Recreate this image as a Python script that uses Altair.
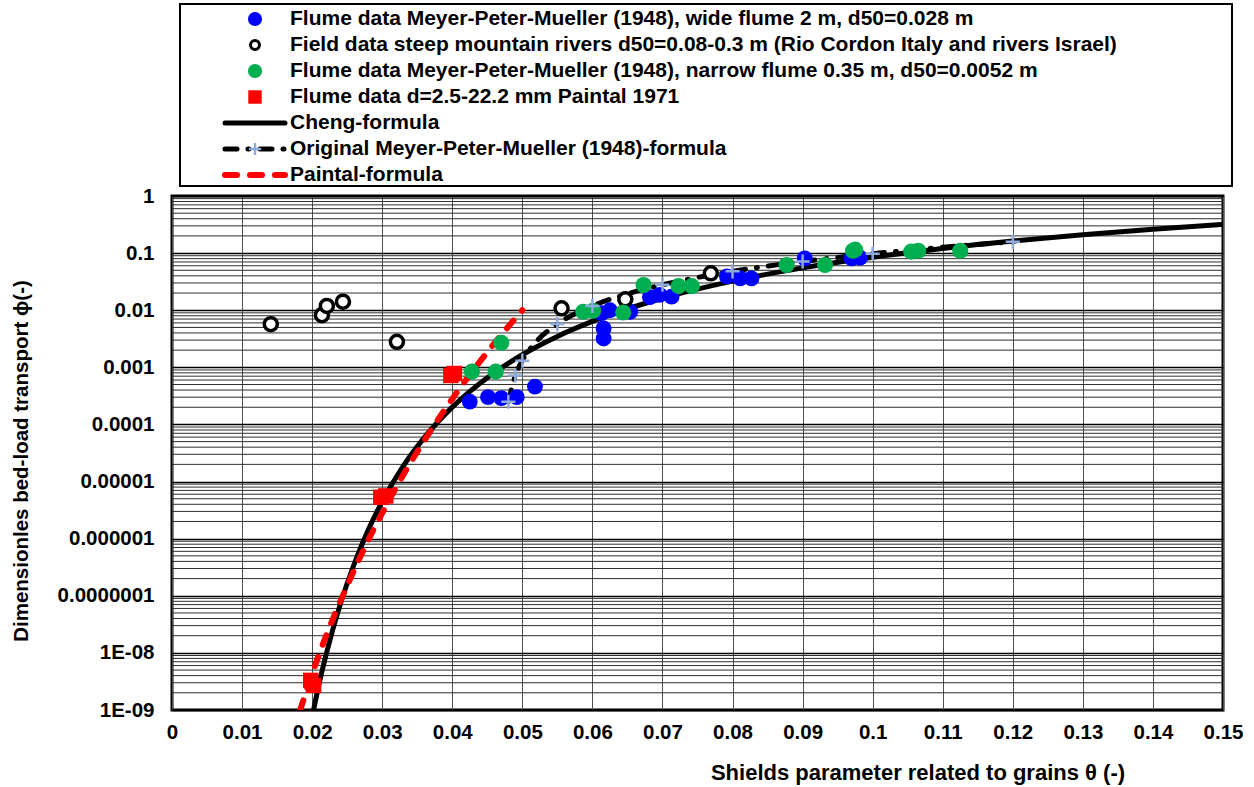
import altair as alt
import pandas as pd

# ---- measured data: Shields parameter θ and dimensionless bed-load transport ϕ ----
wide_theta = [0.0425, 0.0451, 0.0470, 0.0492, 0.0518, 0.0613, 0.0616, 0.0616, 0.0625,
              0.0654, 0.0682, 0.0696, 0.0713, 0.0792, 0.0811, 0.0827, 0.0903, 0.0970, 0.0982]
wide_phi = [2.5e-4, 3.0e-4, 2.9e-4, 3.0e-4, 4.6e-4, 8.9e-3, 4.8e-3, 3.2e-3, 0.0100,
            9.4e-3, 0.0170, 0.0185, 0.0173, 0.039, 0.036, 0.036, 0.081, 0.081, 0.083]

field_theta = [0.0141, 0.0214, 0.0221, 0.0244, 0.0321, 0.0556, 0.0647, 0.0769]
field_phi = [5.7e-3, 8.2e-3, 0.0119, 0.0141, 2.8e-3, 0.0108, 0.0155, 0.0443]

narrow_theta = [0.0428, 0.0462, 0.0470, 0.0587, 0.0601, 0.0644, 0.0673, 0.0723, 0.0742,
                0.0877, 0.0932, 0.0972, 0.0975, 0.1055, 0.1065, 0.1125]
narrow_phi = [8.4e-4, 8.4e-4, 2.7e-3, 9.4e-3, 9.8e-3, 9.1e-3, 0.0277, 0.0264, 0.0264,
              0.062, 0.062, 0.110, 0.115, 0.106, 0.110, 0.110]

paintal_theta = [0.0198, 0.0202, 0.0298, 0.0305, 0.0398, 0.0403]
paintal_phi = [3.3e-9, 2.7e-9, 5.3e-6, 5.6e-6, 7.2e-4, 7.8e-4]

# ---- transport formulas ----
cheng_theta = [0.0202, 0.021, 0.022, 0.024, 0.026, 0.028, 0.030, 0.033, 0.036, 0.040, 0.045,
               0.050, 0.055, 0.060, 0.070, 0.080, 0.090, 0.100, 0.110, 0.120, 0.130, 0.140, 0.150]
cheng_phi = [1.0e-9, 2.9e-9, 9.4e-9, 7.0e-8, 3.6e-7, 1.41e-6, 4.47e-6, 1.86e-5, 5.88e-5, 2.01e-4,
             6.59e-4, 1.66e-3, 3.48e-3, 6.36e-3, 0.0162, 0.0323, 0.0551, 0.0846, 0.1205, 0.1623,
             0.2097, 0.2622, 0.3194]

mpm_theta = [0.048, 0.049, 0.050, 0.052, 0.055, 0.060, 0.065, 0.070, 0.075, 0.080, 0.090,
             0.100, 0.110, 0.120]
mpm_phi = [2.5e-4, 7.2e-4, 1.31e-3, 2.83e-3, 5.72e-3, 0.0119, 0.0193, 0.0279, 0.0375, 0.0480,
           0.0713, 0.0976, 0.1265, 0.1578]
mpm_mark_theta = [0.048, 0.049, 0.050, 0.055, 0.060, 0.070, 0.080, 0.090, 0.100, 0.120]
mpm_mark_phi = [2.5e-4, 7.2e-4, 1.31e-3, 5.72e-3, 0.0119, 0.0279, 0.0480, 0.0713, 0.0976, 0.1578]

paintal_curve_theta = [0.0183, 0.020, 0.022, 0.025, 0.028, 0.030, 0.033, 0.036, 0.040, 0.045, 0.050]
paintal_curve_phi = [1.0e-9, 4.3e-9, 2.0e-8, 1.5e-7, 9.4e-7, 2.8e-6, 1.3e-5, 5.2e-5, 2.8e-4,
                     1.85e-3, 1.0e-2]

legend_labels = [
    "Flume data Meyer-Peter-Mueller (1948), wide flume 2 m, d50=0.028 m",
    "Field data steep mountain rivers d50=0.08-0.3 m (Rio Cordon Italy and rivers Israel)",
    "Flume data Meyer-Peter-Mueller (1948), narrow flume 0.35 m, d50=0.0052 m",
    "Flume data d=2.5-22.2 mm Paintal 1971",
    "Cheng-formula",
    "Original Meyer-Peter-Mueller (1948)-formula",
    "Paintal-formula",
]
x_title = "Shields parameter related to grains \u03b8 (-)"
y_title = "Dimensionles  bed-load transport \u03d5(-)"

x_ticks = [round(0.01 * i, 2) for i in range(16)]
y_exponents = list(range(-9, 1))
y_decades = [10.0 ** e for e in y_exponents]
y_tick_labels = ["1E-09", "1E-08", "0.0000001", "0.000001", "0.00001", "0.0001",
                 "0.001", "0.01", "0.1", "1"]
y_minor = [k * 10.0 ** e for e in range(-9, 0) for k in range(2, 10)]

W, H = 1051, 514
FONT = "Liberation Sans"
FS = 20.5
BLUE, GREEN, RED, PLUS = "#0000ff", "#00b050", "#ff0000", "#8eaadb"
MPM_DASH = [12, 11, 1, 11]

label_expr = ""
for e, lab in zip(y_exponents, y_tick_labels):
    label_expr += f"round(log(datum.value)/LN10) == {e} ? '{lab}' : "
label_expr += "''"

x_scale = alt.Scale(domain=[0, 0.15], nice=False, zero=False)
y_scale = alt.Scale(type="log", domain=[1e-9, 1], nice=False)

x_axis = alt.Axis(values=x_ticks, format=".2~f", grid=True, gridColor="#505050", gridWidth=1,
                  ticks=False, domain=False, labelFont=FONT, labelFontSize=FS,
                  labelFontWeight="bold", labelColor="black", labelPadding=12, labelFlush=False)
y_axis = alt.Axis(values=y_decades, labelExpr=label_expr, grid=True, gridColor="#000000",
                  gridWidth=1.5, ticks=False, domain=False, labelFont=FONT, labelFontSize=FS,
                  labelFontWeight="bold", labelColor="black", labelPadding=18, labelFlush=False)

X = alt.X("t:Q", scale=x_scale, axis=x_axis, title=None)
Y = alt.Y("p:Q", scale=y_scale, axis=y_axis, title=None)


def frame(theta, phi):
    return pd.DataFrame({"t": theta, "p": phi})


one = pd.DataFrame({"k": [0]})

minor_grid = alt.Chart(pd.DataFrame({"p": y_minor})).mark_rule(
    color="#2e2e2e", strokeWidth=1).encode(y=Y)

cheng = alt.Chart(frame(cheng_theta, cheng_phi)).mark_line(
    color="black", strokeWidth=5, clip=True, interpolate="monotone").encode(x=X, y=Y)
mpm = alt.Chart(frame(mpm_theta, mpm_phi)).mark_line(
    color="black", strokeWidth=5, strokeDash=MPM_DASH, strokeCap="round",
    clip=True, interpolate="monotone").encode(x=X, y=Y)
paintal_line = alt.Chart(frame(paintal_curve_theta, paintal_curve_phi)).mark_line(
    color=RED, strokeWidth=6, strokeDash=[10, 13], strokeCap="round",
    clip=True, interpolate="monotone").encode(x=X, y=Y)

wide = alt.Chart(frame(wide_theta, wide_phi)).mark_point(
    shape="circle", filled=True, color=BLUE, size=250, opacity=1).encode(x=X, y=Y)
field = alt.Chart(frame(field_theta, field_phi)).mark_point(
    shape="circle", filled=True, fill="white", stroke="black", strokeWidth=3.5,
    size=170, opacity=1).encode(x=X, y=Y)
narrow = alt.Chart(frame(narrow_theta, narrow_phi)).mark_point(
    shape="circle", filled=True, color=GREEN, size=260, opacity=1).encode(x=X, y=Y)
paintal_pts = alt.Chart(frame(paintal_theta, paintal_phi)).mark_point(
    shape="square", filled=True, color=RED, size=240, opacity=1).encode(x=X, y=Y)
mpm_marks = alt.Chart(frame(mpm_mark_theta, mpm_mark_phi)).mark_point(
    shape="M-1,0L1,0M0,-1L0,1", filled=False, stroke=PLUS, strokeWidth=2.5,
    size=200, opacity=1).encode(x=X, y=Y)

# ---- legend box drawn above the plot area ----
row_y = [-177 + 26 * i for i in range(len(legend_labels))]
sym_x, line_x0, line_x1, text_x = 83, 53, 113, 118

legend = [alt.Chart(one).mark_rect(fill="white", stroke="black", strokeWidth=2).encode(
    x=alt.value(8), x2=alt.value(1060), y=alt.value(-192), y2=alt.value(-10))]
for lab, yy in zip(legend_labels, row_y):
    legend.append(alt.Chart(one).mark_text(
        text=lab, align="left", baseline="middle", font=FONT, fontSize=21,
        fontWeight="bold", color="black").encode(x=alt.value(text_x), y=alt.value(yy)))
legend += [
    alt.Chart(one).mark_point(shape="circle", filled=True, color=BLUE, size=200, opacity=1)
    .encode(x=alt.value(sym_x), y=alt.value(row_y[0])),
    alt.Chart(one).mark_point(shape="circle", filled=True, fill="white", stroke="black",
                              strokeWidth=3, size=80, opacity=1)
    .encode(x=alt.value(sym_x), y=alt.value(row_y[1])),
    alt.Chart(one).mark_point(shape="circle", filled=True, color=GREEN, size=200, opacity=1)
    .encode(x=alt.value(sym_x), y=alt.value(row_y[2])),
    alt.Chart(one).mark_point(shape="square", filled=True, color=RED, size=180, opacity=1)
    .encode(x=alt.value(sym_x), y=alt.value(row_y[3])),
    alt.Chart(one).mark_rule(color="black", strokeWidth=5, strokeCap="round")
    .encode(x=alt.value(line_x0), x2=alt.value(line_x1), y=alt.value(row_y[4])),
    alt.Chart(one).mark_rule(color="black", strokeWidth=5, strokeCap="round",
                             strokeDash=MPM_DASH)
    .encode(x=alt.value(line_x0), x2=alt.value(line_x1), y=alt.value(row_y[5])),
    alt.Chart(one).mark_point(shape="M-1,0L1,0M0,-1L0,1", filled=False, stroke=PLUS,
                              strokeWidth=2.5, size=150, opacity=1)
    .encode(x=alt.value(sym_x), y=alt.value(row_y[5])),
    alt.Chart(one).mark_rule(color=RED, strokeWidth=6, strokeCap="round", strokeDash=[12, 13])
    .encode(x=alt.value(line_x0), x2=alt.value(line_x1), y=alt.value(row_y[6])),
]

titles = [
    alt.Chart(one).mark_text(text=x_title, align="center", baseline="middle", font=FONT,
                             fontSize=22, fontWeight="bold", color="black")
    .encode(x=alt.value(746), y=alt.value(577)),
    alt.Chart(one).mark_text(text=y_title, align="center", baseline="middle", font=FONT,
                             fontSize=FS, fontWeight="bold", color="black", angle=270)
    .encode(x=alt.value(-150), y=alt.value(265)),
]

chart = alt.layer(
    minor_grid, cheng, mpm, paintal_line, wide, field, narrow, paintal_pts, mpm_marks,
    *legend, *titles
).properties(
    width=W, height=H,
    autosize=alt.AutoSizeParams(type="none"),
    padding={"left": 172, "top": 196, "right": 31, "bottom": 77},
    background="white",
).configure_view(stroke="black", strokeWidth=3)

chart.save("out.html", embed_options={"renderer": "svg", "actions": False})
